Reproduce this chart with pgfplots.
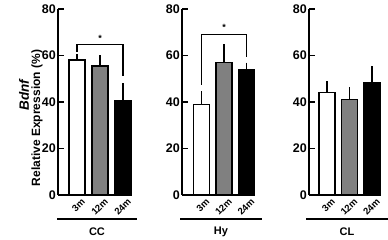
\documentclass[border=0pt]{standalone}
\usepackage{pgfplots}
\pgfplotsset{compat=1.18}
\usepackage{fontspec}
\setmainfont{Liberation Sans}
\definecolor{midgray}{HTML}{808080}
\begin{document}
\begin{tikzpicture}[x=1pt,y=1pt]
\useasboundingbox (0,0) rectangle (388,240);
\pgfplotsset{
  panel/.style={
    scale only axis, height=186pt,
    ymin=0, ymax=80,
    axis x line*=bottom, axis y line*=left,
    axis line style={line width=1.6pt,-},
    ytick={0,20,40,60,80},
    tick align=inside, major tick length=6pt,
    y tick style={line width=1.6pt, black},
    xtick={0,1,2}, xticklabels={3m,12m,24m},
    x tick style={draw=none},
    xticklabel style={xshift=4pt, yshift=-1pt, rotate=45, anchor=north east, font=\fontsize{9.5}{10}\selectfont\bfseries, inner sep=1pt},
    yticklabel style={font=\fontsize{12.5}{13}\selectfont\bfseries, inner sep=2pt},
    /pgf/number format/assume math mode=true,
    clip=false, anchor=south west,
  },
  mybar/.style={ybar, bar shift=0pt, bar width=16pt, fill=#1, draw=black, line width=1.3pt,
     error bars/.cd, y dir=plus, y explicit, error mark=none, error bar style={line width=1.3pt}},
}
% Panel 1: CC
\begin{axis}[panel, at={(58pt,45pt)}, width=74pt, xmin=-0.826, xmax=2.39]
\addplot[mybar=white] coordinates {(0,58) +- (0,2.5)};
\addplot[mybar=midgray] coordinates {(1,55.5) +- (0,4.5)};
\addplot[mybar=black] coordinates {(2,40.7) +- (0,7.3)};
\draw[line width=1.3pt] (axis cs:0,61.5) -- (axis cs:0,64.7) -- (axis cs:2,64.7) -- (axis cs:2,51);
\node[font=\fontsize{9}{9}\selectfont\bfseries, inner sep=0pt] at (axis cs:1,67.5) {*};
\end{axis}
% Panel 2: Hy
\begin{axis}[panel, at={(182pt,45pt)}, width=73pt, xmin=-0.867, xmax=2.378]
\addplot[mybar=white] coordinates {(0,39) +- (0,5.7)};
\addplot[mybar=midgray] coordinates {(1,57) +- (0,7.8)};
\addplot[mybar=black] coordinates {(2,53.7) +- (0,3.2)};
\draw[line width=1.3pt] (axis cs:0,47.5) -- (axis cs:0,69.1) -- (axis cs:2,69.1) -- (axis cs:2,59.5);
\node[font=\fontsize{9}{9}\selectfont\bfseries, inner sep=0pt] at (axis cs:1,72) {*};
\end{axis}
% Panel 3: CL
\begin{axis}[panel, at={(309pt,45pt)}, width=71pt, xmin=-0.8, xmax=2.356]
\addplot[mybar=white] coordinates {(0,44) +- (0,5)};
\addplot[mybar=midgray] coordinates {(1,41) +- (0,5.5)};
\addplot[mybar=black] coordinates {(2,48.5) +- (0,7)};
\end{axis}
% group lines and labels
\draw[line width=1.6pt] (57,21) -- (137,21);
\draw[line width=1.6pt] (180,21) -- (262,21);
\draw[line width=1.6pt] (306,21) -- (388,21);
\node[font=\fontsize{11}{11}\selectfont\bfseries] at (97,8.5) {CC};
\node[font=\fontsize{11}{11}\selectfont\bfseries] at (221,8.5) {Hy};
\node[font=\fontsize{11}{11}\selectfont\bfseries] at (347,8.5) {CL};
% y label
\node[rotate=90, font=\fontsize{13.5}{14}\selectfont\bfseries\itshape] at (24,145) {Bdnf};
\node[rotate=90, font=\fontsize{12}{12}\selectfont\bfseries] at (37,122) {Relative Expression (\%)};
\end{tikzpicture}
\end{document}
